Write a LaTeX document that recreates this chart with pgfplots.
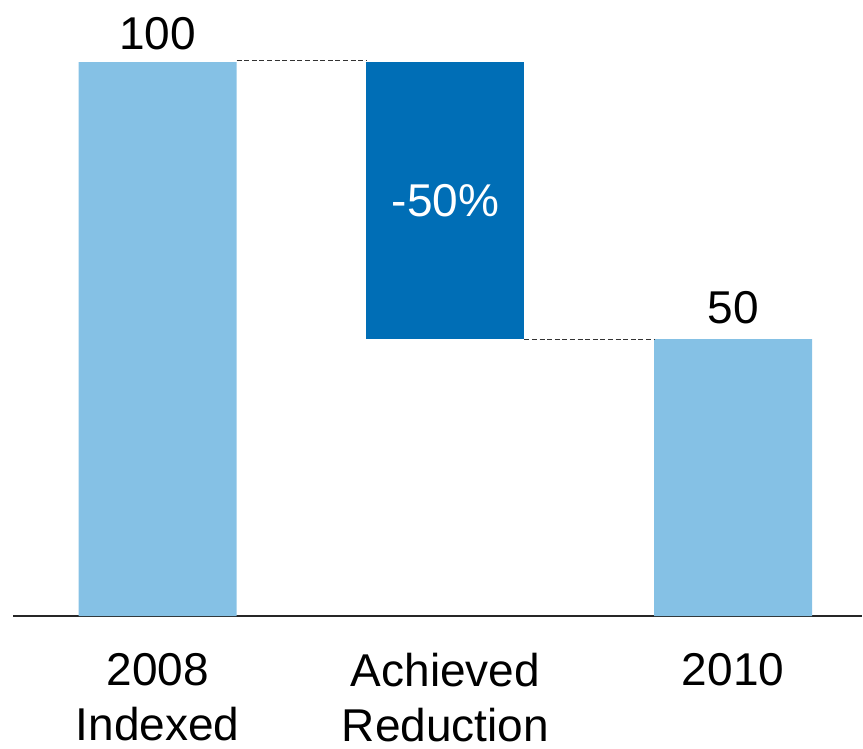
\documentclass[border=0pt]{standalone}
\usepackage{pgfplots}
\pgfplotsset{compat=1.18}
\usepackage{fontspec}
\setmainfont{Liberation Sans}
\definecolor{lightbar}{HTML}{85C1E5}
\definecolor{darkbar}{HTML}{006EB6}
\begin{document}
\begin{tikzpicture}
\begin{axis}[
  scale only axis,
  width=424.5pt, height=308pt,
  xmin=-0.503, xmax=2.448,
  ymin=0, ymax=111.2,
  ybar stacked,
  bar width=0.549,
  axis x line*=bottom,
  axis line style={-, line width=1pt, black!85},
  hide y axis,
  xtick={0,1,2},
  xticklabels={{2008\\Indexed},{Achieved\\Reduction},{2010}},
  major tick length=0pt,
  xticklabel style={align=center, font=\fontsize{23}{27.5}\selectfont, yshift=-15pt},
  clip=false,
]
\addplot[fill=white, draw=none, fill opacity=0] coordinates {(0,0) (1,50) (2,0)};
\addplot[fill=lightbar, draw=none] coordinates {(0,100) (1,0) (2,50)};
\addplot[fill=darkbar, draw=none] coordinates {(0,0) (1,50) (2,0)};
\end{axis}
\begin{axis}[
  scale only axis,
  width=424.5pt, height=308pt,
  xmin=-0.503, xmax=2.448,
  ymin=0, ymax=111.2,
  hide axis,
  clip=false,
]
\addplot[black!80, line width=0.5pt, dash pattern=on 2.5pt off 1.3pt] coordinates {(0.2745,100.3) (0.7255,100.3)};
\addplot[black!80, line width=0.5pt, dash pattern=on 2.5pt off 1.3pt] coordinates {(1.2745,50) (1.7255,50)};
\node[anchor=base, font=\fontsize{23}{27}\selectfont, yshift=6.5pt] at (axis cs:0,100) {100};
\node[anchor=base, font=\fontsize{23}{27}\selectfont, yshift=8pt] at (axis cs:2,50) {50};
\node[anchor=base, font=\fontsize{23}{27}\selectfont, text=white] at (axis cs:1,72.1) {-50\%};
\path (rel axis cs:0,1) -- (rel axis cs:1,1);
\end{axis}
\path (current axis.south west) ++(-6.5pt,0);
\end{tikzpicture}
\end{document}
